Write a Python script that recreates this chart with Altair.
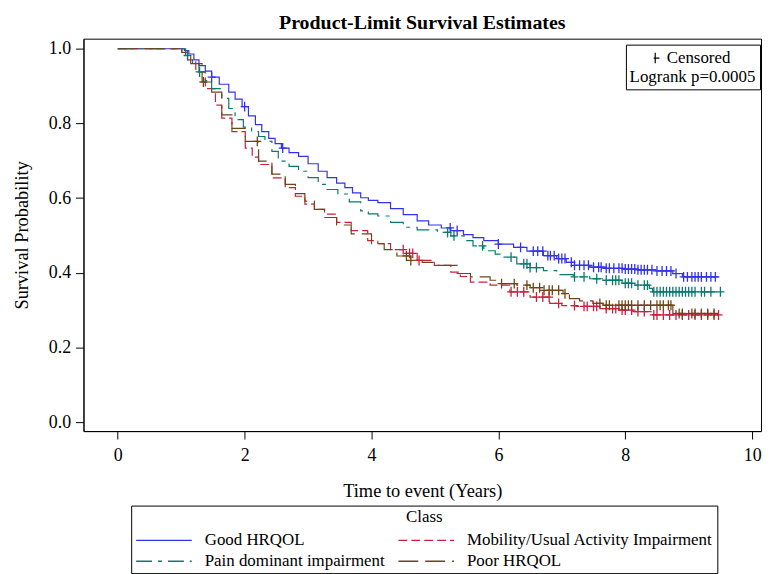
import altair as alt
import pandas as pd
import numpy as np

FONT = "Liberation Serif"

classes = ["Good HRQOL", "Pain dominant impairment",
           "Mobility/Usual Activity Impairment", "Poor HRQOL"]
colors = ["#3232EE", "#0A7A70", "#C8203E", "#6E4616"]
dashes = [[1, 0], [16, 6, 4, 6], [9, 4], [20, 7]]

# Good HRQOL
good_t = [0, 1.02, 1.05, 1.12, 1.2, 1.28, 1.38, 1.48, 1.6, 1.75, 1.85, 1.96, 2.06,
          2.17, 2.27, 2.38, 2.48, 2.58, 2.7, 2.85, 3.0, 3.16, 3.3, 3.45, 3.58, 3.7,
          3.83, 3.95, 4.1, 4.3, 4.5, 4.72, 4.9, 5.1, 5.25, 5.45, 5.6, 5.77, 6.0,
          6.24, 6.45, 6.71, 6.92, 7.07, 7.2, 7.44, 7.7, 7.96, 8.2, 8.48, 8.75, 8.9,
          9.47]
good_s = [1.0, 1.0, 0.995, 0.986, 0.97, 0.955, 0.94, 0.924, 0.905, 0.884, 0.865,
          0.845, 0.82, 0.797, 0.778, 0.76, 0.746, 0.734, 0.722, 0.712, 0.692, 0.672,
          0.655, 0.64, 0.628, 0.614, 0.601, 0.594, 0.588, 0.572, 0.556, 0.539, 0.528,
          0.52, 0.513, 0.502, 0.494, 0.486, 0.477, 0.468, 0.458, 0.446, 0.438, 0.428,
          0.42, 0.415, 0.412, 0.41, 0.408, 0.405, 0.398, 0.389, 0.389]
good_cens = [1.48, 2.0, 2.6, 5.24, 5.35, 6.0, 6.35, 6.55, 6.62, 6.7, 6.78, 6.82,
             6.88, 6.95, 7.0, 7.05, 7.15, 7.2, 7.28, 7.35, 7.42, 7.5, 7.58, 7.62,
             7.7, 7.75, 7.82, 7.9, 7.95, 8.0, 8.05, 8.1, 8.15, 8.2, 8.25, 8.3, 8.35,
             8.42, 8.5, 8.58, 8.65, 8.72, 8.8, 8.92, 8.98, 9.05, 9.1, 9.15, 9.2,
             9.28, 9.35, 9.42]

# Mobility/Usual Activity Impairment
mob_t = [0, 1.0, 1.01, 1.1, 1.23, 1.38, 1.54, 1.64, 1.8, 2.01, 2.12, 2.22, 2.43,
         2.64, 2.8, 2.95, 3.1, 3.26, 3.45, 3.68, 3.94, 4.1, 4.3, 4.52, 4.72, 4.99,
         5.25, 5.4, 5.56, 5.87, 6.18, 6.5, 6.81, 7.0, 7.23, 7.6, 7.9, 8.12, 8.43,
         9.47]
mob_s = [1.0, 1.0, 0.99, 0.97, 0.938, 0.893, 0.849, 0.814, 0.778, 0.734, 0.71,
         0.69, 0.654, 0.628, 0.605, 0.584, 0.57, 0.557, 0.535, 0.513, 0.486, 0.478,
         0.462, 0.452, 0.433, 0.42, 0.402, 0.39, 0.375, 0.367, 0.349, 0.335, 0.318,
         0.312, 0.31, 0.304, 0.3, 0.296, 0.287, 0.287]
mob_cens = [4.5, 4.6, 4.65, 4.75, 6.2, 6.3, 6.4, 6.6, 6.7, 6.8, 6.95, 7.2, 7.35,
            7.4, 7.5, 7.55, 7.7, 7.8, 7.85, 7.95, 8.0, 8.1, 8.2, 8.3, 8.45, 8.5,
            8.6, 8.7, 8.8, 8.9, 9.0, 9.1, 9.2, 9.3, 9.4, 9.47]

# Pain dominant impairment
pain_t = [0, 1.02, 1.07, 1.18, 1.28, 1.38, 1.48, 1.64, 1.75, 1.85, 1.98, 2.11,
          2.22, 2.32, 2.43, 2.53, 2.7, 2.85, 3.0, 3.16, 3.3, 3.47, 3.65, 3.83, 3.95,
          4.1, 4.3, 4.5, 4.72, 5.04, 5.25, 5.46, 5.6, 5.77, 5.95, 6.08, 6.29, 6.5,
          6.71, 6.92, 7.18, 7.44, 7.7, 7.95, 8.12, 8.38, 8.43, 9.53]
pain_s = [1.0, 1.0, 0.982, 0.96, 0.938, 0.915, 0.893, 0.867, 0.84, 0.81, 0.79,
          0.778, 0.765, 0.752, 0.725, 0.699, 0.685, 0.672, 0.655, 0.637, 0.623,
          0.611, 0.59, 0.566, 0.558, 0.552, 0.535, 0.522, 0.515, 0.508, 0.499, 0.486,
          0.472, 0.459, 0.45, 0.442, 0.424, 0.414, 0.406, 0.395, 0.389, 0.384, 0.38,
          0.372, 0.367, 0.358, 0.349, 0.349]
pain_cens = [1.1, 1.29, 5.2, 5.3, 5.75, 6.2, 6.4, 6.45, 6.5, 6.6, 7.2, 7.35, 7.55,
             7.7, 7.8, 7.85, 7.9, 8.0, 8.05, 8.1, 8.2, 8.3, 8.35, 8.45, 8.5, 8.55,
             8.6, 8.65, 8.7, 8.75, 8.8, 8.85, 8.9, 8.95, 9.0, 9.05, 9.1, 9.2, 9.25,
             9.35, 9.5]

# Poor HRQOL
poor_t = [0, 1.0, 1.01, 1.15, 1.33, 1.48, 1.64, 1.8, 2.01, 2.22, 2.43, 2.64, 2.8,
          2.95, 3.1, 3.26, 3.45, 3.68, 4.0, 4.2, 4.4, 4.62, 4.8, 5.04, 5.35, 5.56,
          5.87, 5.98, 6.29, 6.5, 6.71, 7.02, 7.12, 7.28, 7.49, 7.65, 8.75, 9.47]
poor_s = [1.0, 1.0, 0.99, 0.96, 0.911, 0.884, 0.823, 0.787, 0.752, 0.699, 0.664,
          0.637, 0.612, 0.592, 0.57, 0.548, 0.528, 0.504, 0.478, 0.462, 0.445, 0.433,
          0.428, 0.42, 0.398, 0.389, 0.38, 0.371, 0.367, 0.36, 0.353, 0.344, 0.331,
          0.325, 0.318, 0.313, 0.291, 0.291]
poor_cens = [1.35, 2.2, 4.55, 4.62, 6.05, 6.25, 6.45, 6.55, 6.65, 6.72, 6.8, 6.85,
             6.95, 7.05, 7.6, 7.7, 7.75, 7.9, 7.95, 8.0, 8.05, 8.1, 8.2, 8.3, 8.4,
             8.5, 8.55, 8.6, 8.68, 8.72, 8.85, 8.9, 9.05, 9.1, 9.2, 9.3, 9.4]

x_ticks = [0, 2, 4, 6, 8, 10]
y_ticks = [0.0, 0.2, 0.4, 0.6, 0.8, 1.0]

series = [
    ("Good HRQOL", good_t, good_s, good_cens),
    ("Mobility/Usual Activity Impairment", mob_t, mob_s, mob_cens),
    ("Pain dominant impairment", pain_t, pain_s, pain_cens),
    ("Poor HRQOL", poor_t, poor_s, poor_cens),
]

line_rows, cens_rows = [], []
for name, ts, ss, cs in series:
    for t, s in zip(ts, ss):
        line_rows.append({"Class": name, "t": t, "s": s})
    ta = np.array(ts)
    for c in cs:
        i = int(np.searchsorted(ta, c, side="right")) - 1
        cens_rows.append({"Class": name, "t": c, "s": ss[i], "cens": "Censored"})

lines_df = pd.DataFrame(line_rows)
cens_df = pd.DataFrame(cens_rows)

xscale = alt.Scale(domain=[-0.54, 10.14], nice=False, zero=False)
yscale = alt.Scale(domain=[-0.024, 1.027], nice=False, zero=False)

class_legend = alt.Legend(
    title="Class", orient="none", legendX=48, legendY=470, columns=2,
    titleAnchor="middle", titleFont=FONT, titleFontSize=17, titleFontWeight="normal",
    titleColor="black", titlePadding=6,
    labelFont=FONT, labelFontSize=17, labelColor="black", labelLimit=400,
    labelOffset=12, symbolType="stroke", symbolSize=3136, symbolStrokeWidth=1.4,
    clipHeight=16, columnPadding=12, rowPadding=4, padding=4,
    strokeColor="black", fillColor="white",
)

x_enc = alt.X("t:Q", scale=xscale,
              axis=alt.Axis(title="Time to event (Years)", values=x_ticks,
                            format="d", labelPadding=8, titlePadding=17))
y_enc = alt.Y("s:Q", scale=yscale,
              axis=alt.Axis(title="Survival Probability", values=y_ticks,
                            format=".1f", labelPadding=5, titlePadding=17))

lines = alt.Chart(lines_df).mark_line(interpolate="step-after", strokeWidth=1.2).encode(
    x=x_enc,
    y=y_enc,
    color=alt.Color("Class:N", scale=alt.Scale(domain=classes, range=colors),
                    legend=class_legend),
    strokeDash=alt.StrokeDash("Class:N", scale=alt.Scale(domain=classes, range=dashes),
                              legend=class_legend),
)

plus_path = "M-0.8,0L0.8,0M0,-1L0,1"

points = alt.Chart(cens_df).mark_point(filled=False, strokeWidth=1.3, size=100,
                                       opacity=1).encode(
    x=alt.X("t:Q", scale=xscale),
    y=alt.Y("s:Q", scale=yscale),
    color=alt.Color("Class:N", scale=alt.Scale(domain=classes, range=colors),
                    legend=None),
    shape=alt.Shape("cens:N", scale=alt.Scale(domain=["Censored"], range=[plus_path]),
                    legend=alt.Legend(
                        title="Logrank p=0.0005", orient="none", legendX=546, legendY=6,
                        titleOrient="bottom", titleAnchor="middle", titleFont=FONT,
                        titleFontSize=17, titleFontWeight="normal", titleColor="black",
                        titlePadding=2, labelFont=FONT, labelFontSize=17,
                        labelColor="black", symbolStrokeColor="black",
                        symbolStrokeWidth=1.2, symbolSize=110, symbolOffset=-7,
                        labelOffset=3, clipHeight=19, padding=4,
                        strokeColor="black", fillColor="white")),
)

chart = alt.layer(lines, points).properties(
    width=682, height=395,
    title=alt.Title("Product-Limit Survival Estimates", font=FONT, fontSize=20,
                    fontWeight="bold", color="black", anchor="middle", offset=6),
    autosize=alt.AutoSizeParams(type="none"),
    padding={"left": 76, "top": 29, "right": 2, "bottom": 145},
).configure(background="white").configure_view(
    stroke="black", strokeWidth=1
).configure_axis(
    grid=False, labelFont=FONT, labelFontSize=18, labelColor="black",
    titleFont=FONT, titleFontSize=18.5, titleFontWeight="normal", titleColor="black",
    domainColor="black", tickColor="black", tickSize=8, labelFlush=False,
)

chart.save("out.html", embed_options={"renderer": "svg", "actions": False})
